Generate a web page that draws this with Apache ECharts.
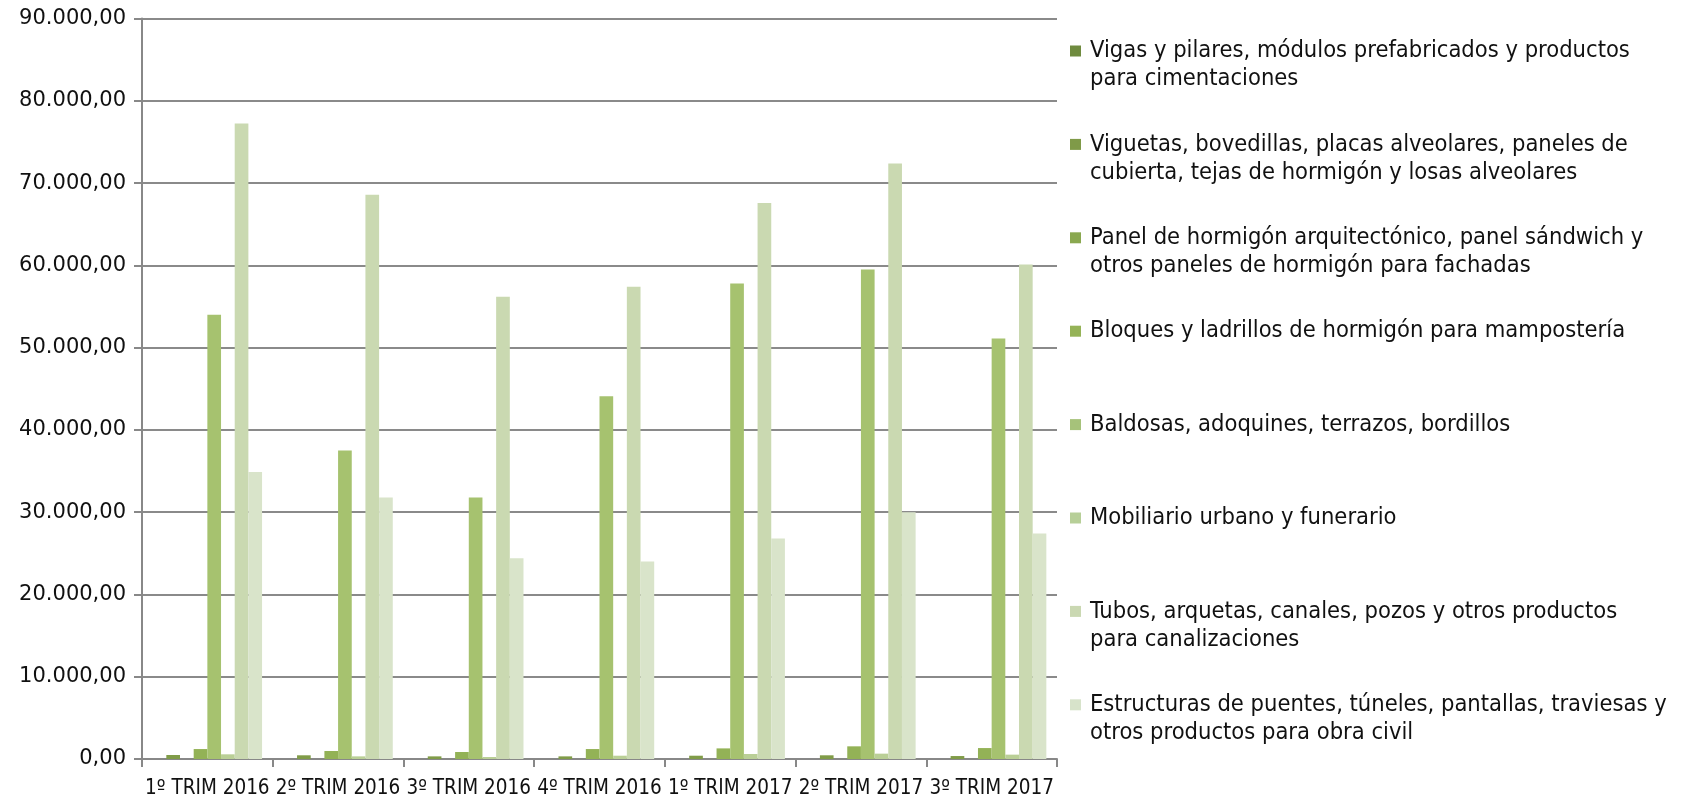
<!DOCTYPE html>
<html>
<head>
<meta charset="utf-8">
<script src="https://cdn.jsdelivr.net/npm/echarts@6/dist/echarts.min.js"></script>
<style>
html,body{margin:0;padding:0;background:#fff;}
#chart{width:1686px;height:799px;}
</style>
</head>
<body>
<div id="chart"></div>
<script>
const categories = ['1º TRIM 2016','2º TRIM 2016','3º TRIM 2016','4º TRIM 2016','1º TRIM 2017','2º TRIM 2017','3º TRIM 2017'];
const seriesNames = [
  'Vigas y pilares, módulos prefabricados y productos\npara cimentaciones',
  'Viguetas, bovedillas, placas alveolares, paneles de\ncubierta, tejas de hormigón y losas alveolares',
  'Panel de hormigón arquitectónico, panel sándwich y\notros paneles de hormigón para fachadas',
  'Bloques y ladrillos de hormigón para mampostería',
  'Baldosas, adoquines, terrazos, bordillos',
  'Mobiliario urbano y funerario',
  'Tubos, arquetas, canales, pozos y otros productos\npara canalizaciones',
  'Estructuras de puentes, túneles, pantallas, traviesas y\notros productos para obra civil'
];
const vigas       = [0, 0, 0, 0, 0, 0, 0];
const viguetas    = [490, 450, 320, 320, 400, 450, 360];
const paneles     = [0, 0, 0, 0, 0, 0, 0];
const bloques     = [1210, 970, 850, 1210, 1290, 1540, 1330];
const baldosas    = [54000, 37500, 31800, 44100, 57800, 59500, 51100];
const mobiliario  = [570, 320, 240, 400, 610, 650, 530];
const tubos       = [77260, 68600, 56200, 57400, 67600, 72400, 60100];
const estructuras = [34900, 31800, 24400, 24000, 26800, 30000, 27400];
const yTicks = ['0,00','10.000,00','20.000,00','30.000,00','40.000,00','50.000,00','60.000,00','70.000,00','80.000,00','90.000,00'];

const seriesData = [vigas, viguetas, paneles, bloques, baldosas, mobiliario, tubos, estructuras];
const barColors = ['#77933C','#809C48','#8BAA50','#93B256','#A6C26F','#BACF96','#CAD9B1','#D9E4CA'];
const legendColors = ['#6F8B3F','#7F9A48','#8AA850','#95B357','#A6C27A','#B7CF98','#CAD8B2','#D7E3CA'];

const LH = 28;
const chart = echarts.init(document.getElementById('chart'));
chart.setOption({
  backgroundColor: '#ffffff',
  animation: false,
  grid: {left: 142, right: 629, top: 18.6, bottom: 38.7, containLabel: false},
  legend: {
    orient: 'vertical',
    left: 1065,
    top: 4,
    itemGap: 9.4,
    itemWidth: 11,
    itemHeight: 11,
    icon: 'rect',
    selectedMode: false,
    data: seriesNames.map((n, i) => ({name: n, itemStyle: {color: legendColors[i]}})),
    formatter: (name) => (name.indexOf('\n') >= 0) ? (' \n' + name) : (' \n' + name + '\n '),
    textStyle: {
      fontFamily: '"DejaVu Sans Condensed", "DejaVu Sans", sans-serif',
      fontSize: 23.5,
      lineHeight: LH,
      padding: [0, 0, 0, 4],
      color: '#111'
    }
  },
  xAxis: {
    type: 'category',
    data: categories,
    boundaryGap: true,
    axisLine: {lineStyle: {color: '#888888', width: 2}},
    axisTick: {show: true, length: 8, lineStyle: {color: '#888888', width: 2}},
    axisLabel: {
      interval: 0,
      margin: 19,
      color: '#111',
      fontFamily: '"DejaVu Sans Condensed", "DejaVu Sans", sans-serif',
      fontSize: 20.5
    }
  },
  yAxis: {
    type: 'value',
    min: 0,
    max: 90000,
    interval: 10000,
    axisLine: {show: true, lineStyle: {color: '#888888', width: 2}},
    axisTick: {show: true, length: 8, lineStyle: {color: '#888888', width: 2}},
    splitLine: {show: true, lineStyle: {color: '#8a8a8a', width: 2}},
    axisLabel: {
      margin: 16,
      color: '#111',
      fontFamily: '"DejaVu Sans", sans-serif',
      fontSize: 21,
      formatter: (v) => yTicks[Math.round(v / 10000)]
    }
  },
  series: seriesData.map((d, i) => ({
    name: seriesNames[i],
    type: 'bar',
    data: d,
    barGap: '0%',
    barCategoryGap: '16.3%',
    itemStyle: {color: barColors[i]}
  }))
});
</script>
</body>
</html>
